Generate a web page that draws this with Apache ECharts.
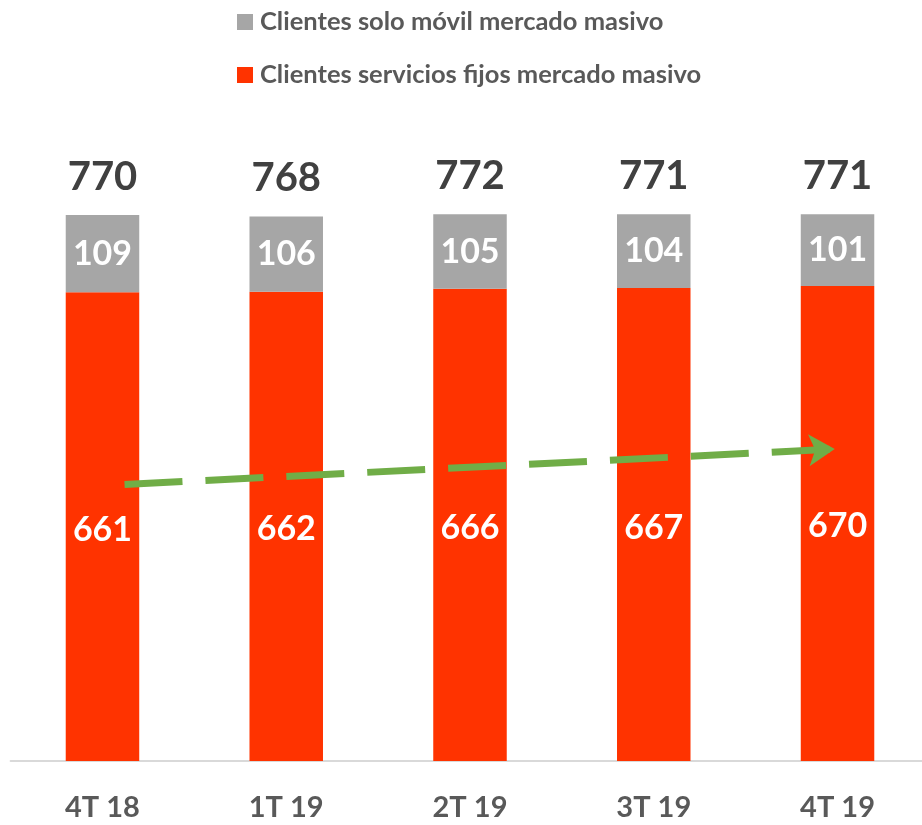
<!DOCTYPE html>
<html>
<head>
<meta charset="utf-8">
<script src="https://cdn.jsdelivr.net/npm/echarts@6/dist/echarts.min.js"></script>
<style>
  html, body { margin: 0; padding: 0; background: #fff; }
  #chart { width: 922px; height: 825px; }
</style>
</head>
<body>
<div id="chart"></div>
<script>
const categories = ["4T 18", "1T 19", "2T 19", "3T 19", "4T 19"];
const fijos = [661, 662, 666, 667, 670];
const movil = [109, 106, 105, 104, 101];
const totals = [770, 768, 772, 771, 771];
// tendencia: posicion x en unidades de categoria, y en unidades de valor
const trendX = [0.12, 3.985];
const trendY = [390, 440];

const nameMovil = "Clientes solo móvil mercado masivo";
const nameFijos = "Clientes servicios fijos mercado masivo";

const chart = echarts.init(document.getElementById("chart"));

const option = {
  animation: false,
  legend: {
    orient: "vertical",
    left: 237,
    top: 9,
    padding: 0,
    itemWidth: 16,
    itemHeight: 16,
    itemGap: 27,
    icon: "rect",
    selectedMode: false,
    data: [nameMovil, nameFijos],
    textStyle: {
      color: "#595959",
      fontFamily: "Lato",
      fontWeight: "bold",
      fontSize: 25.5,
      padding: [0, 0, 0, 2],
    },
  },
  grid: {
    left: 10.6,
    width: 918.8,
    top: 52,
    bottom: 64,
    outerBoundsMode: "none",
  },
  xAxis: [
    {
      type: "category",
      data: categories,
      axisLine: { show: true, lineStyle: { color: "#d9d9d9", width: 2 } },
      axisTick: { show: false },
      axisLabel: {
        color: "#595959",
        fontFamily: "Lato",
        fontWeight: "bold",
        fontSize: 29,
        margin: 32,
      },
    },
    {
      type: "value",
      min: -0.5,
      max: 4.5,
      show: false,
    },
  ],
  yAxis: {
    type: "value",
    min: 0,
    max: 1000,
    show: false,
    splitLine: { show: false },
  },
  series: [
    {
      name: nameFijos,
      type: "bar",
      stack: "total",
      barWidth: "40%",
      itemStyle: { color: "#ff3300" },
      label: {
        show: true,
        position: "inside",
        offset: [0, 3],
        color: "#fff",
        fontFamily: "Lato",
        fontWeight: "bold",
        fontSize: 34,
      },
      data: fijos,
    },
    {
      name: nameMovil,
      type: "bar",
      stack: "total",
      itemStyle: { color: "#a6a6a6" },
      label: {
        show: true,
        position: "inside",
        color: "#fff",
        fontFamily: "Lato",
        fontWeight: "bold",
        fontSize: 34,
      },
      data: movil,
    },
    {
      name: "total",
      type: "bar",
      stack: "total",
      itemStyle: { color: "transparent" },
      label: {
        show: true,
        position: "top",
        distance: 18,
        color: "#404040",
        fontFamily: "Lato",
        fontWeight: "bold",
        fontSize: 40,
        formatter: (p) => totals[p.dataIndex],
      },
      data: totals.map(() => 0),
    },
    {
      name: "tendencia",
      type: "line",
      xAxisIndex: 1,
      data: [],
      silent: true,
      markLine: {
        silent: true,
        symbol: ["none", "arrow"],
        symbolSize: [24, 26],
        label: { show: false },
        lineStyle: { color: "#70ad47", width: 7, type: [58, 23] },
        data: [
          [
            { coord: [trendX[0], trendY[0]] },
            { coord: [trendX[1], trendY[1]] },
          ],
        ],
      },
    },
  ],
};

chart.setOption(option);
</script>
</body>
</html>
